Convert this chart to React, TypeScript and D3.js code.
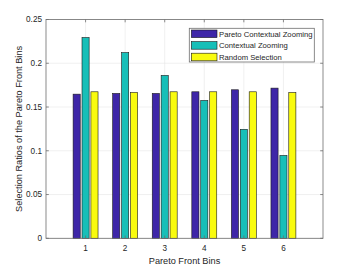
import React from 'react';
import { scaleLinear, range } from 'd3';

// values
const bins = [1, 2, 3, 4, 5, 6];
const paretoZooming = [0.1647, 0.1655, 0.1655, 0.1674, 0.1697, 0.1716];
const contextualZooming = [0.2294, 0.2122, 0.1861, 0.1575, 0.1245, 0.0947];
const randomSelection = [0.1674, 0.1666, 0.1674, 0.1674, 0.1674, 0.1666];
const seriesNames = ['Pareto Contextual Zooming', 'Contextual Zooming', 'Random Selection'];
const yTicks = [0, 0.05, 0.1, 0.15, 0.2, 0.25];

const colors = ['#3e26a8', '#17bfb8', '#f9fb0e'];

const dims = {
  width: 357,
  height: 268,
  left: 46,
  right: 323,
  top: 19.5,
  bottom: 238.3
};

const font = 'Liberation Sans, Arial, Helvetica, sans-serif';

export default function App() {
  const { width, height, left, right, top, bottom } = dims;
  const allSeries = [paretoZooming, contextualZooming, randomSelection];

  const x = scaleLinear().domain([0, 7]).range([left, right]);
  const y = scaleLinear().domain([0, 0.25]).range([bottom, top]);

  const offset = 0.225; // group spacing in x units
  const barW = x(0.18) - x(0);
  const tickLen = 2.8;

  return (
    <svg width={width} height={height} style={{ position: 'absolute', left: 0, top: 0 }}>
      <rect x={0} y={0} width={width} height={height} fill="#fff" />

      {/* grid */}
      {bins.map(b => (
        <line key={'gx' + b} x1={x(b)} x2={x(b)} y1={top} y2={bottom} stroke="#e6e6e6" strokeWidth={0.6} />
      ))}
      {yTicks.map(t => (
        <line key={'gy' + t} x1={left} x2={right} y1={y(t)} y2={y(t)} stroke="#e6e6e6" strokeWidth={0.6} />
      ))}

      {/* bars */}
      {allSeries.map((s, si) =>
        s.map((v, i) => {
          const cx = x(bins[i] + (si - 1) * offset);
          return (
            <rect
              key={si + '-' + i}
              x={cx - barW / 2}
              y={y(v)}
              width={barW}
              height={y(0) - y(v)}
              fill={colors[si]}
              stroke="#1a1a1a"
              strokeWidth={0.6}
            />
          );
        })
      )}

      {/* axes box and ticks */}
      <rect x={left} y={top} width={right - left} height={bottom - top} fill="none" stroke="#6e6e6e" strokeWidth={0.8} />
      {bins.map(b => (
        <g key={'tx' + b}>
          <line x1={x(b)} x2={x(b)} y1={bottom} y2={bottom - tickLen} stroke="#6e6e6e" strokeWidth={0.8} />
          <line x1={x(b)} x2={x(b)} y1={top} y2={top + tickLen} stroke="#6e6e6e" strokeWidth={0.8} />
          <text x={x(b)} y={250.5} textAnchor="middle" fontSize={8.2} fontFamily={font} fill="#262626">
            {b}
          </text>
        </g>
      ))}
      {yTicks.map(t => (
        <g key={'ty' + t}>
          <line x1={left} x2={left + tickLen} y1={y(t)} y2={y(t)} stroke="#6e6e6e" strokeWidth={0.8} />
          <line x1={right} x2={right - tickLen} y1={y(t)} y2={y(t)} stroke="#6e6e6e" strokeWidth={0.8} />
          <text x={42} y={y(t) + 2.9} textAnchor="end" fontSize={8.2} fontFamily={font} fill="#262626">
            {String(t)}
          </text>
        </g>
      ))}

      {/* axis labels */}
      <text x={(left + right) / 2} y={263.5} textAnchor="middle" fontSize={9.2} fontFamily={font} fill="#262626">
        Pareto Front Bins
      </text>
      <text
        transform={`translate(22, ${(top + bottom) / 2}) rotate(-90)`}
        textAnchor="middle"
        fontSize={9.2}
        fontFamily={font}
        fill="#262626"
      >
        Selection Ratios of the Pareto Front Bins
      </text>

      {/* legend */}
      <rect x={189.3} y={28.3} width={125} height={33.7} fill="#fff" stroke="#6e6e6e" strokeWidth={0.8} />
      {range(seriesNames.length).map(i => {
        const ry = 30 + i * 11.6;
        return (
          <g key={'lg' + i}>
            <rect x={191.3} y={ry} width={25.7} height={7.6} fill={colors[i]} stroke="#1a1a1a" strokeWidth={0.6} />
            <text x={219} y={ry + 6.6} fontSize={7.7} fontFamily={font} fill="#262626">
              {seriesNames[i]}
            </text>
          </g>
        );
      })}
    </svg>
  );
}
